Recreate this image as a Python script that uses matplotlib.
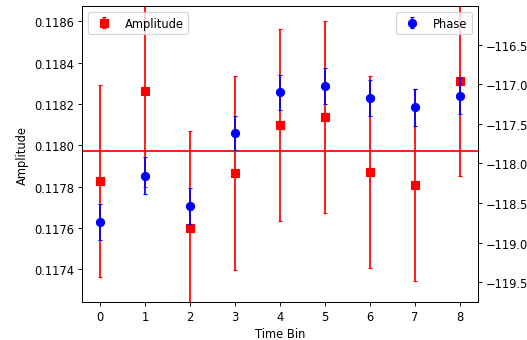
import numpy as np
import matplotlib
matplotlib.use("Agg")
import matplotlib.pyplot as plt

# time bins
bins = np.arange(9)

# amplitude per bin and its error
amplitude = [0.117828, 0.118264, 0.117599, 0.117865, 0.118098,
             0.118137, 0.117870, 0.117810, 0.118312]
amp_err = [0.000463, 0.000464, 0.000469, 0.000468, 0.000465,
           0.000466, 0.000464, 0.000464, 0.000460]
amp_mean = 0.117973

# phase per bin and its error
phase = [-118.745, -118.155, -118.539, -117.616, -117.101,
         -117.021, -117.173, -117.291, -117.148]
phase_err = [0.227, 0.236, 0.224, 0.220, 0.220,
             0.228, 0.228, 0.232, 0.224]

DPI = 83
fig = plt.figure(figsize=(527 / DPI, 341 / DPI), dpi=DPI)
ax1 = fig.add_axes([0.1556, 0.1123, 0.7509, 0.8663])

ax1.errorbar(bins, amplitude, yerr=amp_err, fmt='rs', ms=7, capsize=2, label='Amplitude')
ax1.axhline(amp_mean, color='r')
ax1.set_ylim(0.117244, 0.118672)
ax1.set_ylabel('Amplitude')
ax1.set_xlabel('Time Bin')
ax1.legend(loc='upper left')

ax2 = ax1.twinx()
ax2.errorbar(bins, phase, yerr=phase_err, fmt='bo', ms=7, capsize=2, label='Phase')
ax2.set_ylim(-119.748, -116.014)
ax2.legend(loc='upper right')

fig.savefig('out.png', dpi=DPI)
